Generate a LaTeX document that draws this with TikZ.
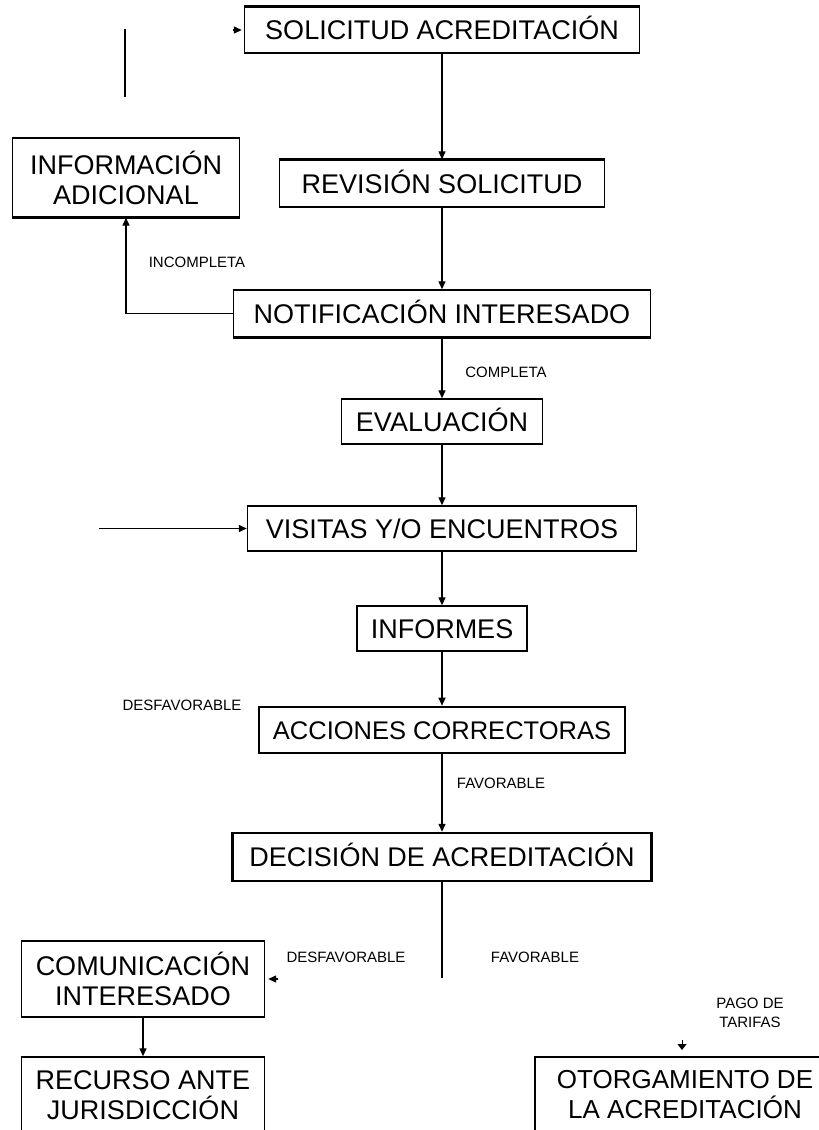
\documentclass[tikz,border=0pt]{standalone}
\usepackage{fontspec}
\setmainfont{Liberation Sans}
\usetikzlibrary{arrows.meta,calc}
\begin{document}
\begin{tikzpicture}[x=1pt,y=-1pt,
  stepbox/.style={draw=black, line width=1.4pt, inner sep=0pt, align=center,
    font=\fontsize{27}{30}\selectfont},
  oneline/.style={text height=19.5pt, text depth=0pt},
  heavy/.style={line width=3pt, line cap=butt},
  lbl/.style={font=\fontsize{15}{19}\selectfont, align=center, inner sep=0pt},
  flow/.style={line width=1.3pt, -{Triangle[length=8pt,width=7pt]}},
  plain/.style={line width=1.3pt}
]
\useasboundingbox (0,0) rectangle (819,1130);
\fill[white] (0,0) rectangle (819,1130);
\clip (0,0) rectangle (819,1130);

% process boxes
\node[stepbox, oneline, minimum width=395pt, minimum height=46pt] (sol) at (442,30) {SOLICITUD ACREDITACIÓN};
\node[stepbox, minimum width=227pt, minimum height=79pt] (info) at (126,177.5) {INFORMACIÓN\\ADICIONAL};
\node[stepbox, oneline, minimum width=325pt, minimum height=47pt] (rev) at (442,183.5) {REVISIÓN SOLICITUD};
\node[stepbox, oneline, minimum width=417pt, minimum height=47pt] (notif) at (442,313.5) {NOTIFICACIÓN INTERESADO};
\node[stepbox, oneline, minimum width=201pt, minimum height=45pt] (eval) at (442,421.5) {EVALUACIÓN};
\node[stepbox, oneline, minimum width=389pt, minimum height=45pt] (vis) at (442,528.5) {VISITAS Y/O ENCUENTROS};
\node[stepbox, oneline, minimum width=170pt, minimum height=45pt] (inf) at (442,628.5) {INFORMES};
\node[stepbox, oneline, line width=2.6pt, minimum width=366pt, minimum height=46pt,
      font=\fontsize{25.5}{30}\selectfont] (acc) at (442,730) {ACCIONES CORRECTORAS};
\node[stepbox, oneline, line width=2.4pt, minimum width=419pt, minimum height=48pt] (dec) at (442,857) {DECISIÓN DE ACREDITACIÓN};
\node[stepbox, minimum width=243pt, minimum height=76pt] (com) at (143,979) {COMUNICACIÓN\\INTERESADO};
\node[stepbox, minimum width=243pt, minimum height=76pt] (rec) at (143,1095) {RECURSO ANTE\\JURISDICCIÓN};
\node[stepbox, minimum width=300pt, minimum height=76pt,
      font=\fontsize{26}{30}\selectfont] (oto) at (685,1095) {OTORGAMIENTO DE\\LA ACREDITACIÓN};

% heavier edges on some boxes
\draw[heavy] (sol.north west) -- (sol.north east);
\draw[heavy] (info.south west) -- (info.south east);
\draw[heavy] (rev.north west) -- (rev.north east);
\draw[heavy] (notif.south west) -- (notif.south east);

% main flow
\draw[flow] (sol) -- (rev);
\draw[flow] (rev) -- (notif);
\draw[flow] (notif.west) -| (info.south);
\draw[flow] (notif) -- (eval);
\draw[flow] (eval) -- (vis);
\coordinate (visin) at (99,528.5);
\draw[flow] (visin) -- (vis.west);
\draw[flow] (vis) -- (inf);
\draw[flow] (inf) -- (acc);
\draw[flow] (acc) -- (dec);
\coordinate (decend) at (442,978);
\draw[plain] (dec.south) -- (decend);
\draw[flow] (com) -- (rec);

% loose line and lone arrow tips
\coordinate (lt) at (125,29);
\coordinate (lb) at (125,97);
\draw[plain] (lt) -- (lb);
\coordinate (solin) at ($(sol.west)+(-11,0)$);
\coordinate (solat) at ($(sol.west)+(-2,0)$);
\draw[flow] (solin) -- (solat);
\coordinate (comin) at ($(com.east)+(13,0)$);
\coordinate (comat) at ($(com.east)+(3,0)$);
\draw[flow] (comin) -- (comat);
\coordinate (otoin) at (682,1040);
\coordinate (otoat) at (682,1050);
\draw[line width=1pt, -{Triangle[length=6pt,width=9pt]}] (otoin) -- (otoat);

% branch labels
\node[lbl] (l1) at (197,262) {INCOMPLETA};
\node[lbl] (l2) at (506,372) {COMPLETA};
\node[lbl] (l3) at (182,705) {DESFAVORABLE};
\node[lbl] (l4) at (501,783) {FAVORABLE};
\node[lbl] (l5) at (346,957) {DESFAVORABLE};
\node[lbl] (l6) at (535,957) {FAVORABLE};
\node[lbl] (l7) at (750,1013) {PAGO DE\\TARIFAS};
\end{tikzpicture}
\end{document}
